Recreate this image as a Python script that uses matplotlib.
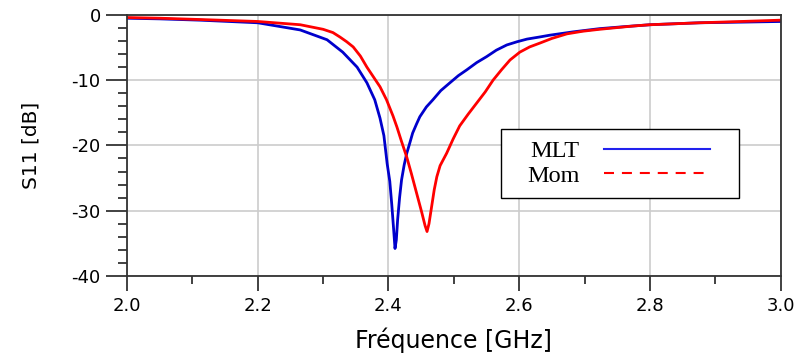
import matplotlib
matplotlib.use("Agg")
import matplotlib.pyplot as plt
from matplotlib.lines import Line2D
from matplotlib.patches import Rectangle
from matplotlib.ticker import MultipleLocator, FormatStrFormatter

plt.rcParams['font.family'] = ['DejaVu Sans']
plt.rcParams['axes.unicode_minus'] = False

# MLT (blue)
f_mlt = [2.000, 2.050, 2.112, 2.200, 2.265, 2.306, 2.330, 2.352, 2.367, 2.379,
         2.387, 2.393, 2.398, 2.402, 2.405, 2.408, 2.410, 2.412, 2.414, 2.417,
         2.420, 2.424, 2.428, 2.433, 2.437, 2.443, 2.448, 2.458, 2.468, 2.480,
         2.494, 2.507, 2.520, 2.535, 2.550, 2.565, 2.581, 2.597, 2.612, 2.630,
         2.647, 2.682, 2.723, 2.760, 2.800, 2.876, 2.940, 3.000]
s_mlt = [-0.5, -0.6, -0.8, -1.2, -2.3, -3.8, -5.7, -8.0, -10.4, -13.0,
         -15.8, -18.5, -22.8, -25.5, -29.0, -33.0, -35.8, -34.5, -31.4, -28.0,
         -25.3, -23.0, -21.2, -19.5, -18.1, -16.7, -15.6, -14.1, -13.0, -11.6,
         -10.4, -9.3, -8.4, -7.3, -6.4, -5.4, -4.6, -4.1, -3.7, -3.4,
         -3.1, -2.6, -2.1, -1.8, -1.5, -1.2, -1.1, -1.0]

# Mom (red)
f_mom = [2.000, 2.050, 2.112, 2.200, 2.265, 2.300, 2.315, 2.326, 2.336, 2.346,
         2.357, 2.367, 2.377, 2.387, 2.397, 2.407, 2.413, 2.420, 2.428, 2.435,
         2.443, 2.451, 2.456, 2.459, 2.462, 2.466, 2.470, 2.474, 2.479, 2.489,
         2.499, 2.509, 2.522, 2.535, 2.548, 2.560, 2.573, 2.586, 2.601, 2.616,
         2.632, 2.650, 2.673, 2.697, 2.723, 2.774, 2.800, 2.876, 2.940, 3.000]
s_mom = [-0.4, -0.5, -0.7, -1.0, -1.5, -2.2, -2.7, -3.4, -4.1, -4.9,
         -6.3, -8.0, -9.5, -11.0, -13.0, -15.5, -17.2, -19.4, -21.8, -24.3,
         -27.3, -30.3, -32.3, -33.2, -32.0, -29.4, -26.8, -24.8, -23.1, -21.2,
         -19.0, -17.0, -15.2, -13.5, -11.8, -10.0, -8.4, -6.9, -5.7, -4.9,
         -4.3, -3.6, -2.9, -2.5, -2.2, -1.7, -1.5, -1.2, -1.0, -0.8]

blue = '#0000cc'
red = '#ff0000'

fig = plt.figure(figsize=(7.99, 3.56), dpi=100)
ax = fig.add_axes([0.159, 0.225, 0.818, 0.733])

ax.plot(f_mlt, s_mlt, color=blue, lw=2.0)
ax.plot(f_mom, s_mom, color=red, lw=2.0)

ax.set_xlim(2.0, 3.0)
ax.set_ylim(-40, 0)
ax.xaxis.set_major_locator(MultipleLocator(0.2))
ax.xaxis.set_minor_locator(MultipleLocator(0.1))
ax.yaxis.set_major_locator(MultipleLocator(10))
ax.yaxis.set_minor_locator(MultipleLocator(2))
ax.xaxis.set_major_formatter(FormatStrFormatter('%.1f'))

ax.grid(True, which='major', color='#cccccc', lw=1.2)
ax.set_axisbelow(True)
for sp in ax.spines.values():
    sp.set_color('#333333')
    sp.set_linewidth(1.3)

ax.tick_params(axis='x', which='major', direction='out', length=11, width=1.3,
               color='#333333', labelsize=13, pad=4)
ax.tick_params(axis='x', which='minor', direction='out', length=6, width=1.3,
               color='#333333')
ax.tick_params(axis='y', which='major', direction='out', length=15, width=1.3,
               color='#333333', labelsize=13, pad=4)
ax.tick_params(axis='y', which='minor', direction='out', length=6.5, width=1.3,
               color='#333333')

ax.set_xlabel('Fréquence [GHz]', fontsize=17, labelpad=9)
ax.set_ylabel('S11 [dB]', fontsize=14.5)
ax.yaxis.set_label_coords(-0.133, 0.5)

# legend box drawn separately so that the padding matches
ax.add_patch(Rectangle((0.572, 0.299), 0.365, 0.264, transform=ax.transAxes,
                       facecolor='white', edgecolor='black', lw=1.0, zorder=4))
handles = [Line2D([], [], color='#2222ee', lw=1.5),
           Line2D([], [], color=red, lw=1.5, ls=(0, (4.8, 3.8)))]
leg = ax.legend(handles, ['MLT', 'Mom'], loc='center',
                bbox_to_anchor=(0.752, 0.431), markerfirst=False,
                prop={'family': 'Liberation Serif', 'size': 17.5},
                handlelength=4.35, handletextpad=1.0, labelspacing=0.1,
                borderpad=0, borderaxespad=0, frameon=False)
leg.set_zorder(5)

fig.savefig('out.png', dpi=100)
